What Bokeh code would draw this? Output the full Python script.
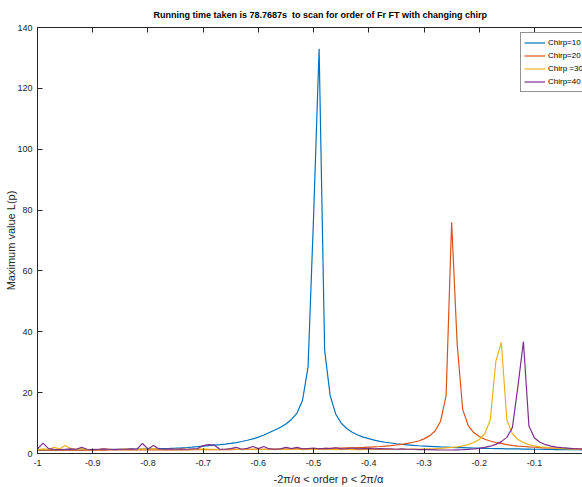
import numpy as np
from bokeh.plotting import figure
from bokeh.models import Range1d, LinearAxis, FixedTicker, Legend, LegendItem, Title
from bokeh.embed import file_html
from bokeh.resources import INLINE

# x grid: order p from -1 to 0 in steps of 0.01
order_p = [round(-1 + 0.01 * i, 2) for i in range(101)]

chirp10 = [1.10, 1.11, 1.12, 1.13, 1.15, 1.16, 1.18, 1.19, 1.21, 1.23,
           1.25, 1.27, 1.29, 1.31, 1.34, 1.36, 1.39, 1.42, 1.45, 1.48,
           1.52, 1.56, 1.60, 1.65, 1.70, 1.78, 1.87, 1.98, 2.11, 2.27,
           2.45, 2.60, 2.75, 2.90, 3.10, 3.35, 3.60, 3.95, 4.35, 4.80,
           5.40, 6.10, 6.90, 7.70, 8.60, 9.70, 11.2, 13.3, 17.5, 28.5,
           78.0, 133.0, 34.0, 19.0, 13.0, 10.0, 8.2, 7.0, 6.1, 5.4,
           4.9, 4.4, 4.0, 3.7, 3.45, 3.2, 3.0, 2.85, 2.7, 2.55,
           2.45, 2.35, 2.25, 2.15, 2.1, 2.0, 1.95, 1.9, 1.85, 1.8,
           1.75, 1.7, 1.65, 1.6, 1.6, 1.55, 1.5, 1.5, 1.45, 1.45,
           1.4, 1.4, 1.35, 1.35, 1.3, 1.3, 1.3, 1.25, 1.25, 1.2, 1.2]

chirp20 = [1.10, 1.10, 1.12, 1.10, 1.12, 1.13, 1.12, 1.13, 1.14, 1.13,
           1.14, 1.15, 1.14, 1.15, 1.16, 1.15, 1.16, 1.17, 1.17, 1.18,
           1.18, 1.19, 1.19, 1.20, 1.20, 1.21, 1.22, 1.22, 1.23, 1.24,
           1.25, 1.26, 1.27, 1.28, 1.29, 1.30, 1.31, 1.33, 1.34, 1.36,
           1.37, 1.39, 1.41, 1.43, 1.45, 1.47, 1.50, 1.52, 1.55, 1.58,
           1.60, 1.63, 1.66, 1.70, 1.74, 1.78, 1.83, 1.88, 1.94, 2.00,
           2.10, 2.20, 2.30, 2.45, 2.60, 2.80, 3.00, 3.30, 3.70, 4.10,
           4.8, 5.8, 7.4, 10.6, 19.0, 76.0, 36.0, 14.5, 9.2, 6.9,
           5.6, 4.7, 4.1, 3.6, 3.3, 2.9, 2.65, 2.45, 2.3, 2.15,
           2.05, 1.95, 1.85, 1.8, 1.75, 1.7, 1.65, 1.6, 1.55, 1.5, 1.5]

chirp30 = [1.3, 1.5, 1.4, 2.0, 1.5, 2.6, 1.6, 1.4, 1.5, 1.3,
           1.4, 1.3, 1.5, 1.4, 1.3, 1.4, 1.5, 1.4, 1.3, 1.5,
           1.4, 1.6, 1.4, 1.3, 1.4, 1.4, 1.5, 1.4, 1.3, 1.4,
           1.5, 1.4, 1.4, 1.3, 1.4, 1.5, 1.4, 1.3, 1.4, 1.4,
           1.3, 1.4, 1.4, 1.3, 1.4, 1.3, 1.4, 1.4, 1.3, 1.4,
           1.3, 1.4, 1.3, 1.4, 1.3, 1.3, 1.4, 1.3, 1.3, 1.35,
           1.3, 1.35, 1.35, 1.35, 1.4, 1.4, 1.4, 1.4, 1.45, 1.45,
           1.5, 1.55, 1.6, 1.7, 1.85, 2.0, 2.2, 2.5, 2.9, 3.6,
           4.6, 6.5, 11.0, 30.3, 36.5, 11.0, 6.5, 4.6, 3.6, 2.9,
           2.5, 2.2, 2.0, 1.8, 1.7, 1.6, 1.5, 1.4, 1.35, 1.3, 1.25]

chirp40 = [1.5, 3.4, 1.6, 1.4, 1.3, 1.4, 1.5, 1.4, 2.0, 1.4,
           1.3, 1.4, 1.5, 1.4, 1.3, 1.4, 1.4, 1.5, 1.4, 3.3,
           1.5, 2.6, 1.5, 1.4, 1.5, 1.4, 1.5, 1.4, 1.5, 1.6,
           2.6, 2.9, 2.8, 1.4, 1.4, 1.6, 2.0, 1.4, 1.7, 2.3,
           1.6, 2.3, 1.5, 1.4, 1.5, 2.0, 1.6, 2.0, 1.5, 1.6,
           1.8, 1.5, 1.7, 1.6, 1.9, 1.5, 1.6, 1.8, 1.5, 1.6,
           1.7, 1.5, 1.6, 1.5, 1.5, 1.4, 1.5, 1.4, 1.4, 1.3,
           1.3, 1.25, 1.2, 1.15, 1.15, 1.15, 1.2, 1.25, 1.35, 1.5,
           1.7, 2.0, 2.4, 3.0, 3.9, 5.3, 8.5, 22.0, 36.8, 9.0,
           5.1, 3.7, 2.9, 2.4, 2.1, 1.9, 1.75, 1.6, 1.5, 1.45, 1.4]

series = [chirp10, chirp20, chirp30, chirp40]
labels = ["Chirp=10", "Chirp=20", "Chirp =30", "Chirp=40"]
colors = ["#0072BD", "#D95319", "#EDB120", "#7E2F8E"]

x_ticks = [-1.0, -0.9, -0.8, -0.7, -0.6, -0.5, -0.4, -0.3, -0.2, -0.1]
x_tick_labels = ["-1", "-0.9", "-0.8", "-0.7", "-0.6", "-0.5", "-0.4", "-0.3", "-0.2", "-0.1"]
y_ticks = [0, 20, 40, 60, 80, 100, 120, 140]

FONT = "Liberation Sans"
AX = "#262626"

p = figure(width=582, height=487, output_backend="svg", toolbar_location=None,
           x_range=Range1d(-1, -0.013), y_range=Range1d(0, 140),
           x_axis_location=None, y_axis_location=None,
           min_border_left=37, min_border_right=0, min_border_top=27,
           min_border_bottom=33)
p.outline_line_color = None
p.xgrid.visible = False
p.ygrid.visible = False
p.background_fill_color = "white"

p.title.text = "Running time taken is 78.7687s\u00a0 to scan for order of Fr FT with changing chirp"
p.title.text_font = FONT
p.title.text_font_size = "9px"
p.title.text_font_style = "bold"
p.title.align = "left"
p.title.vertical_align = "middle"
p.title.text_color = "black"
p.title.standoff = 14
p.title.offset = 116

def style_axis(ax, label_size="9px"):
    ax.axis_line_color = AX
    ax.axis_line_width = 1
    ax.major_tick_line_color = AX
    ax.major_tick_in = 5
    ax.major_tick_out = 0
    ax.minor_tick_line_color = None
    ax.major_label_text_font = FONT
    ax.major_label_text_font_size = label_size
    ax.major_label_text_color = AX

xb = LinearAxis(ticker=FixedTicker(ticks=x_ticks),
                major_label_overrides=dict(zip(x_ticks, x_tick_labels)))
style_axis(xb)
xb.major_label_standoff = 6
p.add_layout(xb, "below")

xlabel = Title(text="-2\u03c0/\u03b1 < order p < 2\u03c0/\u03b1", align="left",
               offset=236, standoff=5, text_font=FONT, text_font_size="11px",
               text_font_style="normal", text_color=AX)
p.add_layout(xlabel, "below")

xt = LinearAxis(ticker=FixedTicker(ticks=x_ticks))
style_axis(xt)
xt.major_label_text_font_size = "1px"
xt.major_label_text_color = None
xt.major_label_standoff = 0
p.add_layout(xt, "above")

yl = LinearAxis(ticker=FixedTicker(ticks=y_ticks))
style_axis(yl)
yl.major_label_standoff = 5
yl.axis_label = "Maximum value L(p)"
yl.axis_label_text_font = FONT
yl.axis_label_text_font_size = "11px"
yl.axis_label_text_font_style = "normal"
yl.axis_label_text_color = AX
yl.axis_label_standoff = -3
p.add_layout(yl, "left")

items = []
for vals, lab, col in zip(series, labels, colors):
    r = p.line(order_p, vals, line_color=col, line_width=1.2)
    items.append(LegendItem(label=lab, renderers=[r]))

leg = Legend(items=items, location=(483, 361))
leg.margin = 0
leg.padding = 3
leg.spacing = 0
leg.glyph_width = 21
leg.glyph_height = 13
leg.label_height = 13
leg.label_standoff = 3
leg.label_text_font = FONT
leg.label_text_font_size = "8px"
leg.label_text_color = "black"
leg.border_line_color = AX
leg.border_line_width = 1
leg.background_fill_alpha = 1
p.add_layout(leg)

open("out.html", "w").write(file_html(p, INLINE))
